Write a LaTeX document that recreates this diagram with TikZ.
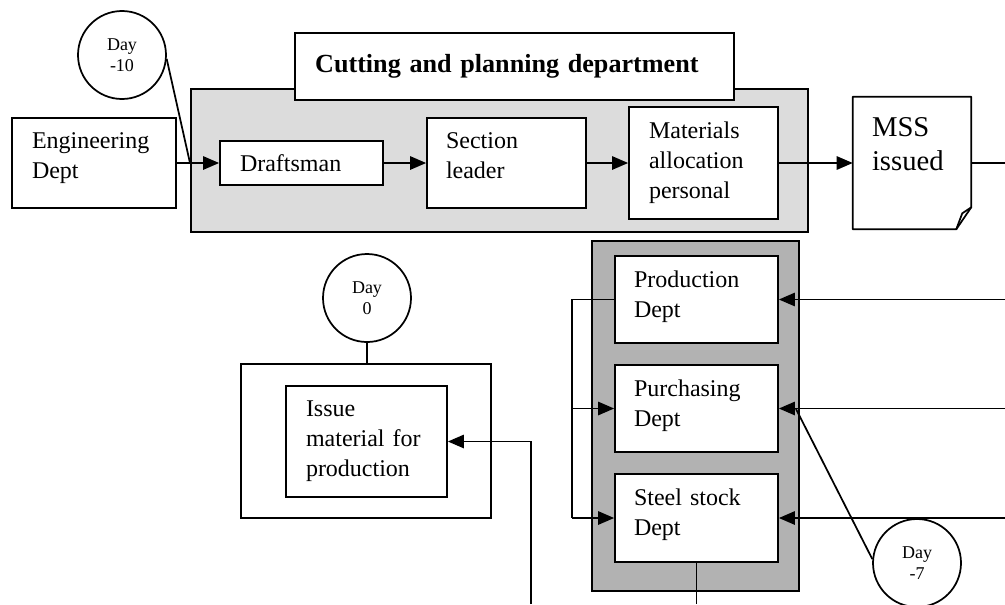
\documentclass[tikz,border=0pt]{standalone}
\usepackage{fontspec}
\setmainfont{Liberation Serif}
\usetikzlibrary{arrows.meta,fit,calc}
\definecolor{panellight}{RGB}{220,220,220}
\definecolor{paneldark}{RGB}{178,178,178}
\begin{document}
\begin{tikzpicture}[x=0.75pt,y=-0.75pt,
  every node/.style={inner sep=0pt},
  line/.style={line width=1.3pt},
  arr/.style={line width=1.3pt,-{Triangle[length=12pt,width=10pt]}},
  panel/.style={draw,line width=1.3pt},
  box/.style={draw,line width=1.3pt,fill=white,rectangle,align=left,font=\fontsize{18}{22.5}\selectfont},
  day/.style={draw,circle,line width=1.3pt,fill=white,minimum size=66pt,align=center,font=\fontsize{13.5}{15.75}\selectfont},
]
\useasboundingbox (0,0) rectangle (1005,604);

% shaded department panels
\node[panel,fill=panellight,fit={(191,89) (808,232)}] (cut) {};
\node[panel,fill=paneldark,fit={(592,241) (799,591)}] (depts) {};

% cutting and planning department
\node[box,font=\bfseries\fontsize{19.6}{24}\selectfont,text width=299pt,minimum width=329.25pt,minimum height=50.25pt] (title) at (514.5,66.5) {Cutting and planning department};
\node[box,text width=93pt,text depth=34pt,minimum width=123pt,minimum height=67.5pt] (eng) at (94,163) {Engineering\\Dept};
\node[box,text width=92.25pt,minimum width=122.25pt,minimum height=33pt] (draft) at (301.5,163) {Draftsman};
\node[box,text width=90.75pt,text depth=34pt,minimum width=119.25pt,minimum height=67.5pt] (sec) at (506.5,163) {Section\\leader};
\node[box,text width=81.75pt,minimum width=111.75pt,minimum height=84pt] (mat) at (703.5,163) {Materials\\allocation\\personal};

% MSS document with folded corner
\node[fit={(853,97) (971,229)}] (mss) {};
\draw[line,fill=white,line join=round]
  (mss.north west) -- (mss.north east) -- ($(mss.south east)+(0,-22)$)
  -- ($(mss.south east)+(-15,0)$) -- (mss.south west) -- cycle;
\draw[line,line join=round] ($(mss.south east)+(0,-22)$) -- ($(mss.south east)+(-9,-16)$) -- ($(mss.south east)+(-15,0)$);
\node[anchor=north west,align=left,font=\fontsize{21.5}{25.5}\selectfont] (msstext) at ($(mss.north west)+(19,21)$) {MSS\\issued};

% departments
\node[box,text width=93.75pt,text depth=31pt,minimum width=122.25pt,minimum height=65.25pt] (prod) at (696.5,299.5) {Production\\Dept};
\node[box,text width=93.75pt,text depth=31pt,minimum width=122.25pt,minimum height=65.25pt] (purch) at (696.5,408.5) {Purchasing\\Dept};
\node[box,text width=93.75pt,text depth=31pt,minimum width=122.25pt,minimum height=66pt] (steel) at (696.5,518) {Steel stock\\Dept};

% issue of material
\node[panel,fill=white,fit={(241,364) (491,518)}] (outer) {};
\node[box,text width=90.75pt,minimum width=120.75pt,minimum height=83.25pt] (issue) at (366.5,441.5) {Issue\\material for\\production};

% connectors
\coordinate (j10) at (190,163);
\coordinate (rim) at (1005,0);
\coordinate (bl) at (572,0);
\coordinate (floor) at (0,604);
\coordinate (feed) at (531,604);
\coordinate (j7) at (796,409);

\draw[arr] (eng.east) -- (draft.west);
\draw[arr] (draft.east) -- (sec.west);
\draw[arr] (sec.east) -- (mat.west);
\draw[arr] (mat.east) -- (mss.west);
\draw[line] (mss.east) -- (mss.east -| rim);

\draw[arr] (prod.east -| rim) -- (prod.east);
\draw[arr] (purch.east -| rim) -- (purch.east);
\draw[arr] (steel.east -| rim) -- (steel.east);

\draw[line] (prod.west) -- (prod.west -| bl) -- (steel.west -| bl);
\draw[arr] (purch.west -| bl) -- (purch.west);
\draw[arr] (steel.west -| bl) -- (steel.west);

\draw[line] (steel.south) -- (steel.south |- floor);
\draw[arr] (feed) |- (issue.east);

% day markers
\node[day] (d10) at (122,55) {Day\\-10};
\node[day] (d0) at (367,298) {Day\\0};
\node[day] (d7) at (917,563) {Day\\-7};

\draw[line] (d10.-5) -- (j10);
\draw[line] (d0.south) -- (d0.south |- outer.north);
\draw[line] (j7) -- (d7.175);
\end{tikzpicture}
\end{document}
